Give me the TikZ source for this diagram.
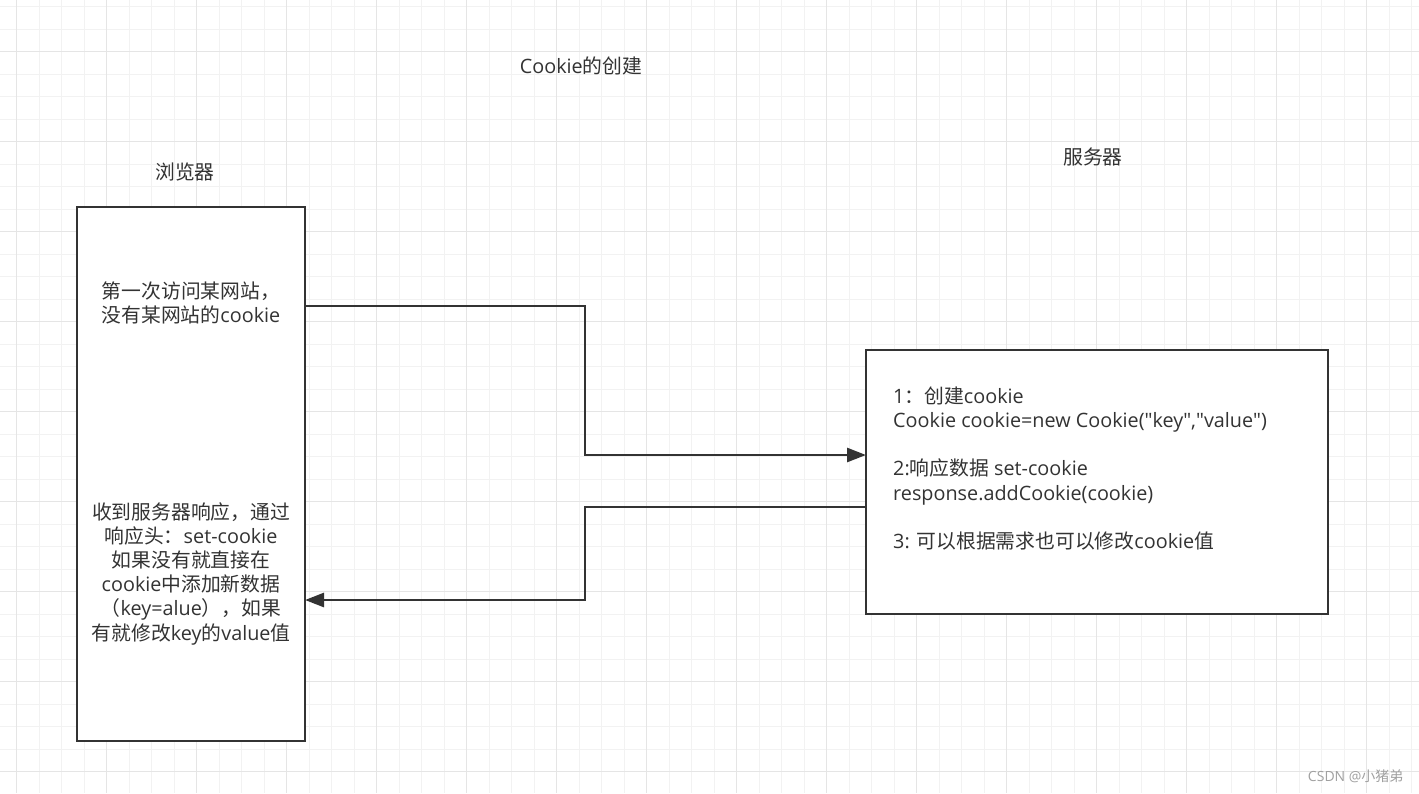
\documentclass[tikz,border=0pt]{standalone}
\usepackage{fontspec}
\setmainfont{Open Sans}
\newfontfamily\qfont{Open Sans}
\newfontfamily\cjk{Noto Sans CJK SC}
\usetikzlibrary{arrows.meta}
\definecolor{ink}{HTML}{333333}
\definecolor{gridminor}{HTML}{F2F2F2}
\definecolor{gridmajor}{HTML}{E5E5E5}
\definecolor{wmark}{HTML}{A0A0A0}
\newcommand\zh[1]{{\cjk #1}}
\newcommand\qq{{\qfont "}}
\begin{document}
\begin{tikzpicture}[x=1pt,y=-1pt,
  every node/.style={text=ink, font=\fontsize{19.8}{24.2}\selectfont},
  minorline/.style={draw=gridminor, line width=1.2pt},
  majorline/.style={draw=gridmajor, line width=1.2pt},
  boxstyle/.style={draw=ink, fill=white, line width=2.9pt, inner sep=0pt, outer sep=0pt, rectangle},
  conn/.style={draw=ink, line width=2.7pt, -{Triangle[length=19pt,width=14pt]}}]
\useasboundingbox (0,0) rectangle (1419,793);
\fill[white] (0,0) rectangle (1419,793);
% grid
\foreach \i in {0,...,62} {\draw[minorline] ({16.7+22.5*\i},0) -- ({16.7+22.5*\i},793);}
\foreach \j in {0,...,35} {\draw[minorline] (0,{6.7+22.5*\j}) -- (1419,{6.7+22.5*\j});}
\foreach \i in {0,...,15} {\draw[majorline] ({16.7+90*\i},0) -- ({16.7+90*\i},793);}
\foreach \j in {0,...,8} {\draw[majorline] (0,{51.7+90*\j}) -- (1419,{51.7+90*\j});}
% boxes
\node[boxstyle, minimum width=228pt, minimum height=534pt] (browser) at (191,474) {};
\node[boxstyle, minimum width=462pt, minimum height=264pt] (server) at (1097,482) {};
% labels
\node (title) at (581,66) {Cookie\zh{的创建}};
\node (blabel) at (185,172) {\zh{浏览器}};
\node (slabel) at (1093,157) {\zh{服务器}};
\node[align=center] (btop) at (191,303) {\zh{第一次访问某网站，}\\\zh{没有某网站的}cookie};
\node[align=center] (bbot) at (191,573.5) {\zh{收到服务器响应，通过}\\\zh{响应头：}set-cookie\\\zh{如果没有就直接在}\\cookie\zh{中添加新数据}\\\zh{（}key=alue\zh{），如果}\\\zh{有就修改}key\zh{的}value\zh{值}};
\node[align=left, anchor=west, inner sep=0pt] (stext) at (893,468.5) {1\zh{：创建}cookie\\Cookie cookie=new Cookie(\qq key\qq,\qq value\qq)\\[24.2pt]2:\zh{响应数据} set-cookie\\response.addCookie(cookie)\\[24.2pt]3: \zh{可以根据需求也可以修改}cookie\zh{值}};
\node[text=wmark, font=\fontsize{14}{16}\selectfont, anchor=east] (wm) at (1407,776) {CSDN @\zh{小猪弟}};
% connectors
\draw[conn] (browser.east |- 0,306) -| (585,455) -- (server.west |- 0,455);
\draw[conn] (server.west |- 0,507) -| (585,600) -- (browser.east |- 0,600);
\end{tikzpicture}
\end{document}
